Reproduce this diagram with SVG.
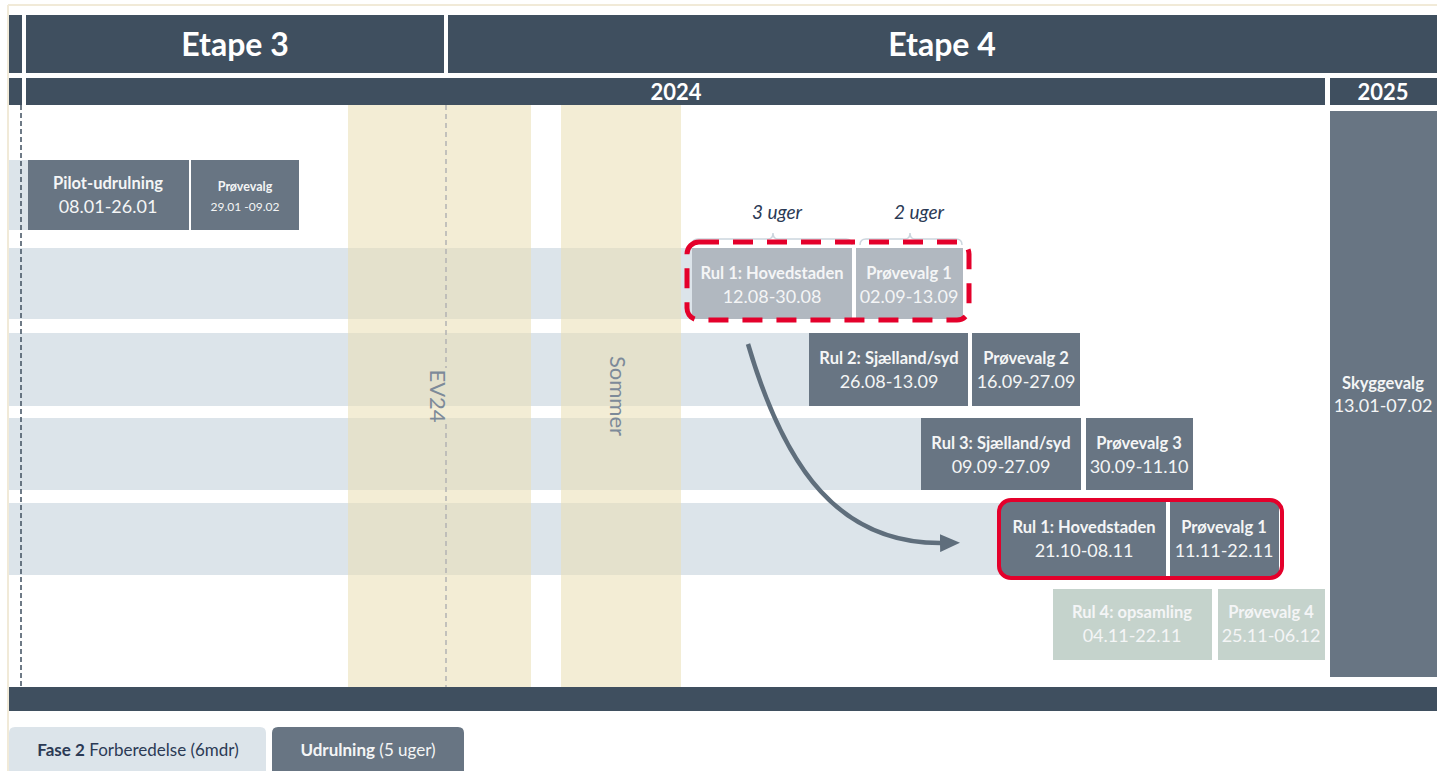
<svg xmlns="http://www.w3.org/2000/svg" width="1437" height="771" viewBox="0 0 1437 771">
<style>
.hdr{fill:#3f4f5f}
.lane{fill:#dce4ea}
.beige{fill:rgb(234,223,181);fill-opacity:0.57}
.box{fill:#687583}
.fade{fill:#b1b8c0}
.pale{fill:#c5d3cc}
text{font-family:Lato,"Liberation Sans",sans-serif}
.h1{font-size:32px;font-weight:700;fill:#fff;text-anchor:middle}
.h2{font-size:22px;font-weight:700;fill:#fff;text-anchor:middle}
.t{font-size:16.5px;font-weight:700;fill:#f4f5f6;text-anchor:middle}
.d{font-size:18px;fill:#f4f5f6;text-anchor:middle}
.ts{font-size:12.5px;font-weight:700;fill:#f4f5f6;text-anchor:middle}
.ds{font-size:12px;fill:#f4f5f6;text-anchor:middle}
.rot{font-size:22px;fill:#7d8a99;text-anchor:middle}
.ug{font-size:19px;font-style:italic;fill:#2b3a55;text-anchor:middle}
</style>
<defs>
<marker id="ah" markerWidth="20" markerHeight="18" refX="4" refY="9" orient="auto" markerUnits="userSpaceOnUse">
<path d="M0,0 L20,9 L0,18 z" fill="#5f6e7c"/>
</marker>
</defs>
<rect x="0" y="0" width="1437" height="771" fill="#fff"/>
<line x1="8" y1="5" x2="1437" y2="5" stroke="#f1ead8" stroke-width="2"/>
<line x1="8" y1="5" x2="8" y2="771" stroke="#f1ead8" stroke-width="2"/>

<g id="header">
<rect class="hdr" x="9" y="15" width="13" height="58"/>
<rect class="hdr" x="26" y="15" width="418" height="58"/>
<rect class="hdr" x="448" y="15" width="989" height="58"/>
<text class="h1" x="235" y="56">Etape 3</text>
<text class="h1" x="942" y="56">Etape 4</text>
<rect class="hdr" x="9" y="78" width="13" height="27"/>
<rect class="hdr" x="26" y="78" width="1299" height="27"/>
<rect class="hdr" x="1330" y="78" width="107" height="27"/>
<text class="h2" x="676" y="100">2024</text>
<text class="h2" x="1383" y="100">2025</text>
</g>

<g id="lanes">
<rect class="lane" x="9" y="160" width="20" height="70"/>
<rect class="lane" x="9" y="248" width="683" height="71"/>
<rect class="lane" x="9" y="333" width="800" height="73"/>
<rect class="lane" x="9" y="418" width="912" height="72"/>
<rect class="lane" x="9" y="503" width="992" height="72"/>
</g>

<g id="ev24">
<rect class="beige" x="348" y="105" width="183" height="582"/>
<line x1="446" y1="105" x2="446" y2="368" stroke="#b3b3b3" stroke-width="1.5" stroke-dasharray="5,4"/>
<line x1="446" y1="424" x2="446" y2="687" stroke="#b3b3b3" stroke-width="1.5" stroke-dasharray="5,4"/>
<text class="rot" transform="translate(430,396) rotate(90)">EV24</text>
</g>
<g id="sommer">
<rect class="beige" x="561" y="105" width="120" height="582"/>
<text class="rot" transform="translate(610,396) rotate(90)">Sommer</text>
</g>

<line x1="21" y1="105" x2="21" y2="688" stroke="#3f4f5f" stroke-width="1.5" stroke-dasharray="5,3"/>

<g id="pilot">
<rect class="box" x="28" y="160" width="161" height="70"/>
<text class="t" x="108" y="189">Pilot-udrulning</text>
<text class="d" x="108" y="213">08.01-26.01</text>
</g>
<g id="pilot-proevevalg">
<rect class="box" x="191" y="160" width="108" height="70"/>
<text class="ts" x="245" y="191">Prøvevalg</text>
<text class="ds" x="245" y="211">29.01 -09.02</text>
</g>

<g id="braces">
<path d="M692,245 Q692,239 698,239 L768,239 Q773,239 773,233 Q773,239 778,239 L846,239 Q852,239 852,245" fill="none" stroke="#ccd6de" stroke-width="1.5"/>
<path d="M860,245 Q860,239 866,239 L905,239 Q910,239 910,233 Q910,239 915,239 L956,239 Q962,239 962,245" fill="none" stroke="#ccd6de" stroke-width="1.5"/>
<text class="ug" x="777" y="219">3 uger</text>
<text class="ug" x="919" y="219">2 uger</text>
</g>

<g id="rul1-old">
<rect class="fade" x="692" y="248" width="160" height="71"/>
<text class="t" x="772" y="279">Rul 1: Hovedstaden</text>
<text class="d" x="772" y="303">12.08-30.08</text>
</g>
<g id="proevevalg1-old">
<rect class="fade" x="856" y="248" width="107" height="71"/>
<text class="t" x="909" y="279">Prøvevalg 1</text>
<text class="d" x="909" y="303">02.09-13.09</text>
</g>
<rect x="687" y="242" width="282" height="78" rx="12" fill="none" stroke="#e4002b" stroke-width="5" stroke-dasharray="20,14"/>

<g id="rul2">
<rect class="box" x="809" y="333" width="159" height="73"/>
<text class="t" x="889" y="364">Rul 2: Sjælland/syd</text>
<text class="d" x="889" y="388">26.08-13.09</text>
</g>
<g id="proevevalg2">
<rect class="box" x="972" y="333" width="108" height="73"/>
<text class="t" x="1026" y="364">Prøvevalg 2</text>
<text class="d" x="1026" y="388">16.09-27.09</text>
</g>

<g id="rul3">
<rect class="box" x="921" y="418" width="160" height="72"/>
<text class="t" x="1001" y="449">Rul 3: Sjælland/syd</text>
<text class="d" x="1001" y="473">09.09-27.09</text>
</g>
<g id="proevevalg3">
<rect class="box" x="1086" y="418" width="107" height="72"/>
<text class="t" x="1139" y="449">Prøvevalg 3</text>
<text class="d" x="1139" y="473">30.09-11.10</text>
</g>

<g id="rul1-new">
<rect class="box" x="1001" y="502" width="165" height="74"/>
<text class="t" x="1084" y="533">Rul 1: Hovedstaden</text>
<text class="d" x="1084" y="557">21.10-08.11</text>
</g>
<g id="proevevalg1-new">
<rect class="box" x="1170" y="502" width="109" height="74"/>
<text class="t" x="1224" y="533">Prøvevalg 1</text>
<text class="d" x="1224" y="557">11.11-22.11</text>
</g>
<rect x="999" y="500" width="283" height="78" rx="12" fill="none" stroke="#e4002b" stroke-width="4"/>

<g id="rul4">
<rect class="pale" x="1053" y="589" width="159" height="71"/>
<text class="t" x="1132" y="618">Rul 4: opsamling</text>
<text class="d" x="1132" y="642">04.11-22.11</text>
</g>
<g id="proevevalg4">
<rect class="pale" x="1218" y="589" width="107" height="71"/>
<text class="t" x="1271" y="618">Prøvevalg 4</text>
<text class="d" x="1271" y="642">25.11-06.12</text>
</g>

<g id="skyggevalg">
<rect class="box" x="1330" y="111" width="107" height="566"/>
<text class="t" x="1383" y="389">Skyggevalg</text>
<text class="d" x="1383" y="412">13.01-07.02</text>
</g>

<g id="connectors">
<path d="M748,344 C785,470 840,545 944,543" fill="none" stroke="#5f6e7c" stroke-width="4.5" marker-end="url(#ah)"/>
</g>

<rect class="hdr" x="9" y="687" width="1428" height="24"/>

<g id="legend-fase2">
<path d="M9,771 L9,733 Q9,727 15,727 L260,727 Q266,727 266,733 L266,771 z" fill="#dce4ea"/>
<text x="138" y="756" font-size="17" fill="#2b3a55" text-anchor="middle"><tspan font-weight="700">Fase 2</tspan> Forberedelse (6mdr)</text>
</g>
<g id="legend-udrulning">
<path d="M272,771 L272,733 Q272,727 278,727 L458,727 Q464,727 464,733 L464,771 z" fill="#687583"/>
<text x="368" y="756" font-size="17" fill="#f4f5f6" text-anchor="middle"><tspan font-weight="700">Udrulning</tspan> (5 uger)</text>
</g>
</svg>
